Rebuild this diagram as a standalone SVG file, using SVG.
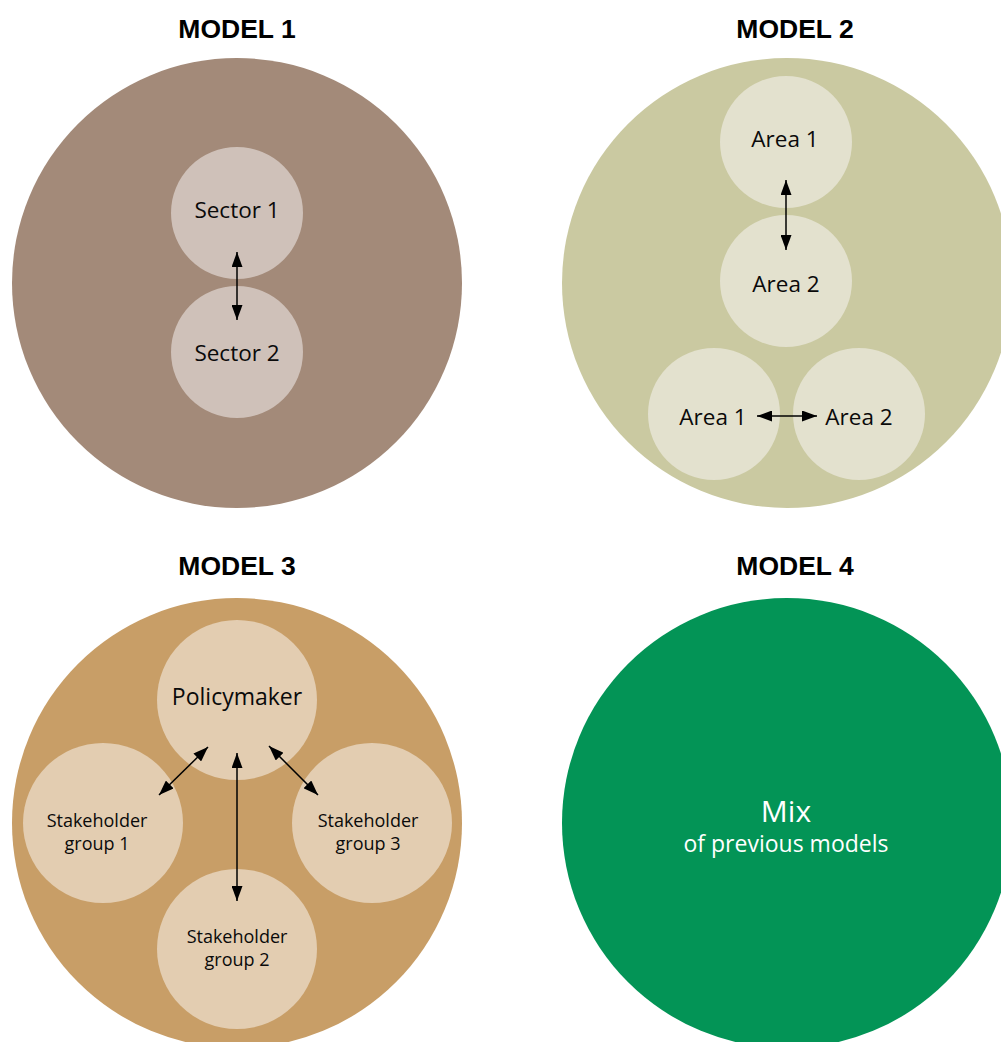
<svg xmlns="http://www.w3.org/2000/svg" width="1001" height="1042" viewBox="0 0 1001 1042">
  <defs>
    <marker id="arrow" viewBox="0 0 15 11" refX="15" refY="5.5" markerWidth="15" markerHeight="11" markerUnits="userSpaceOnUse" orient="auto-start-reverse">
      <path d="M0,0 L15,5.5 L0,11 z" fill="#000"/>
    </marker>
  </defs>
  <style>
    .title { font-family: "Liberation Sans", Arial, sans-serif; font-weight: 700; font-size: 26.5px; fill: #000; text-anchor: middle; }
    .lbl { font-family: "Open Sans", "Noto Sans", sans-serif; font-size: 22.5px; fill: #0a0a0a; text-anchor: middle; }
    .small { font-family: "Open Sans", "Noto Sans", sans-serif; font-size: 18px; fill: #0a0a0a; text-anchor: middle; }
    .m1-outer { fill: #a38a79; }
    .m1-inner { fill: #cfc1b9; }
    .m2-outer { fill: #cac9a1; }
    .m2-inner { fill: #e3e1ce; }
    .m3-outer { fill: #c89e67; }
    .m3-inner { fill: #e3cdb1; }
    .link { stroke: #000; stroke-width: 1.5; fill: none; marker-start: url(#arrow); marker-end: url(#arrow); }
  </style>

  <!-- Model 1: sectors -->
  <g id="model1">
    <text class="title" x="237" y="38">MODEL 1</text>
    <circle class="m1-outer" cx="237" cy="283" r="225"/>
  </g>
  <g id="sector1">
    <circle class="m1-inner" cx="237" cy="213" r="66"/>
    <text class="lbl" x="237" y="218">Sector 1</text>
  </g>
  <g id="sector2">
    <circle class="m1-inner" cx="237" cy="352" r="66"/>
    <text class="lbl" x="237" y="361">Sector 2</text>
  </g>

  <!-- Model 2: areas -->
  <g id="model2">
    <text class="title" x="795" y="38">MODEL 2</text>
    <circle class="m2-outer" cx="787" cy="283" r="225"/>
  </g>
  <g id="area1-top">
    <circle class="m2-inner" cx="786" cy="142" r="66"/>
    <text class="lbl" x="785" y="147">Area 1</text>
  </g>
  <g id="area2-mid">
    <circle class="m2-inner" cx="786" cy="281" r="66"/>
    <text class="lbl" x="786" y="292">Area 2</text>
  </g>
  <g id="area1-left">
    <circle class="m2-inner" cx="714" cy="414" r="66"/>
    <text class="lbl" x="713" y="425">Area 1</text>
  </g>
  <g id="area2-right">
    <circle class="m2-inner" cx="859" cy="414" r="66"/>
    <text class="lbl" x="859" y="425">Area 2</text>
  </g>

  <!-- Model 3: policymaker and stakeholders -->
  <g id="model3">
    <text class="title" x="237" y="575">MODEL 3</text>
    <circle class="m3-outer" cx="237" cy="823" r="225"/>
  </g>
  <g id="policymaker">
    <circle class="m3-inner" cx="237" cy="700" r="80"/>
    <text class="lbl" x="237" y="705" style="font-size:23px">Policymaker</text>
  </g>
  <g id="stakeholder1">
    <circle class="m3-inner" cx="103" cy="823" r="80"/>
    <text class="small" x="97" y="827">Stakeholder</text>
    <text class="small" x="97" y="850">group 1</text>
  </g>
  <g id="stakeholder3">
    <circle class="m3-inner" cx="372" cy="823" r="80"/>
    <text class="small" x="368" y="827">Stakeholder</text>
    <text class="small" x="368" y="850">group 3</text>
  </g>
  <g id="stakeholder2">
    <circle class="m3-inner" cx="237" cy="949" r="80"/>
    <text class="small" x="237" y="943">Stakeholder</text>
    <text class="small" x="237" y="966">group 2</text>
  </g>

  <!-- Model 4: mix -->
  <g id="model4">
    <text class="title" x="795" y="575">MODEL 4</text>
    <circle cx="787" cy="823" r="225" fill="#039456"/>
    <text class="lbl" x="786" y="822" style="font-size:30px;fill:#fff">Mix</text>
    <text class="lbl" x="786" y="852" style="font-size:23px;fill:#fff">of previous models</text>
  </g>

  <!-- Two-way connectors -->
  <g id="connectors">
    <line class="link" x1="237" y1="252" x2="237" y2="320"/>
    <line class="link" x1="786" y1="180" x2="786" y2="250"/>
    <line class="link" x1="757" y1="416" x2="817" y2="416"/>
    <line class="link" x1="208" y1="747" x2="159" y2="795"/>
    <line class="link" x1="269" y1="746" x2="318" y2="795"/>
    <line class="link" x1="237" y1="753" x2="237" y2="901"/>
  </g>
</svg>
